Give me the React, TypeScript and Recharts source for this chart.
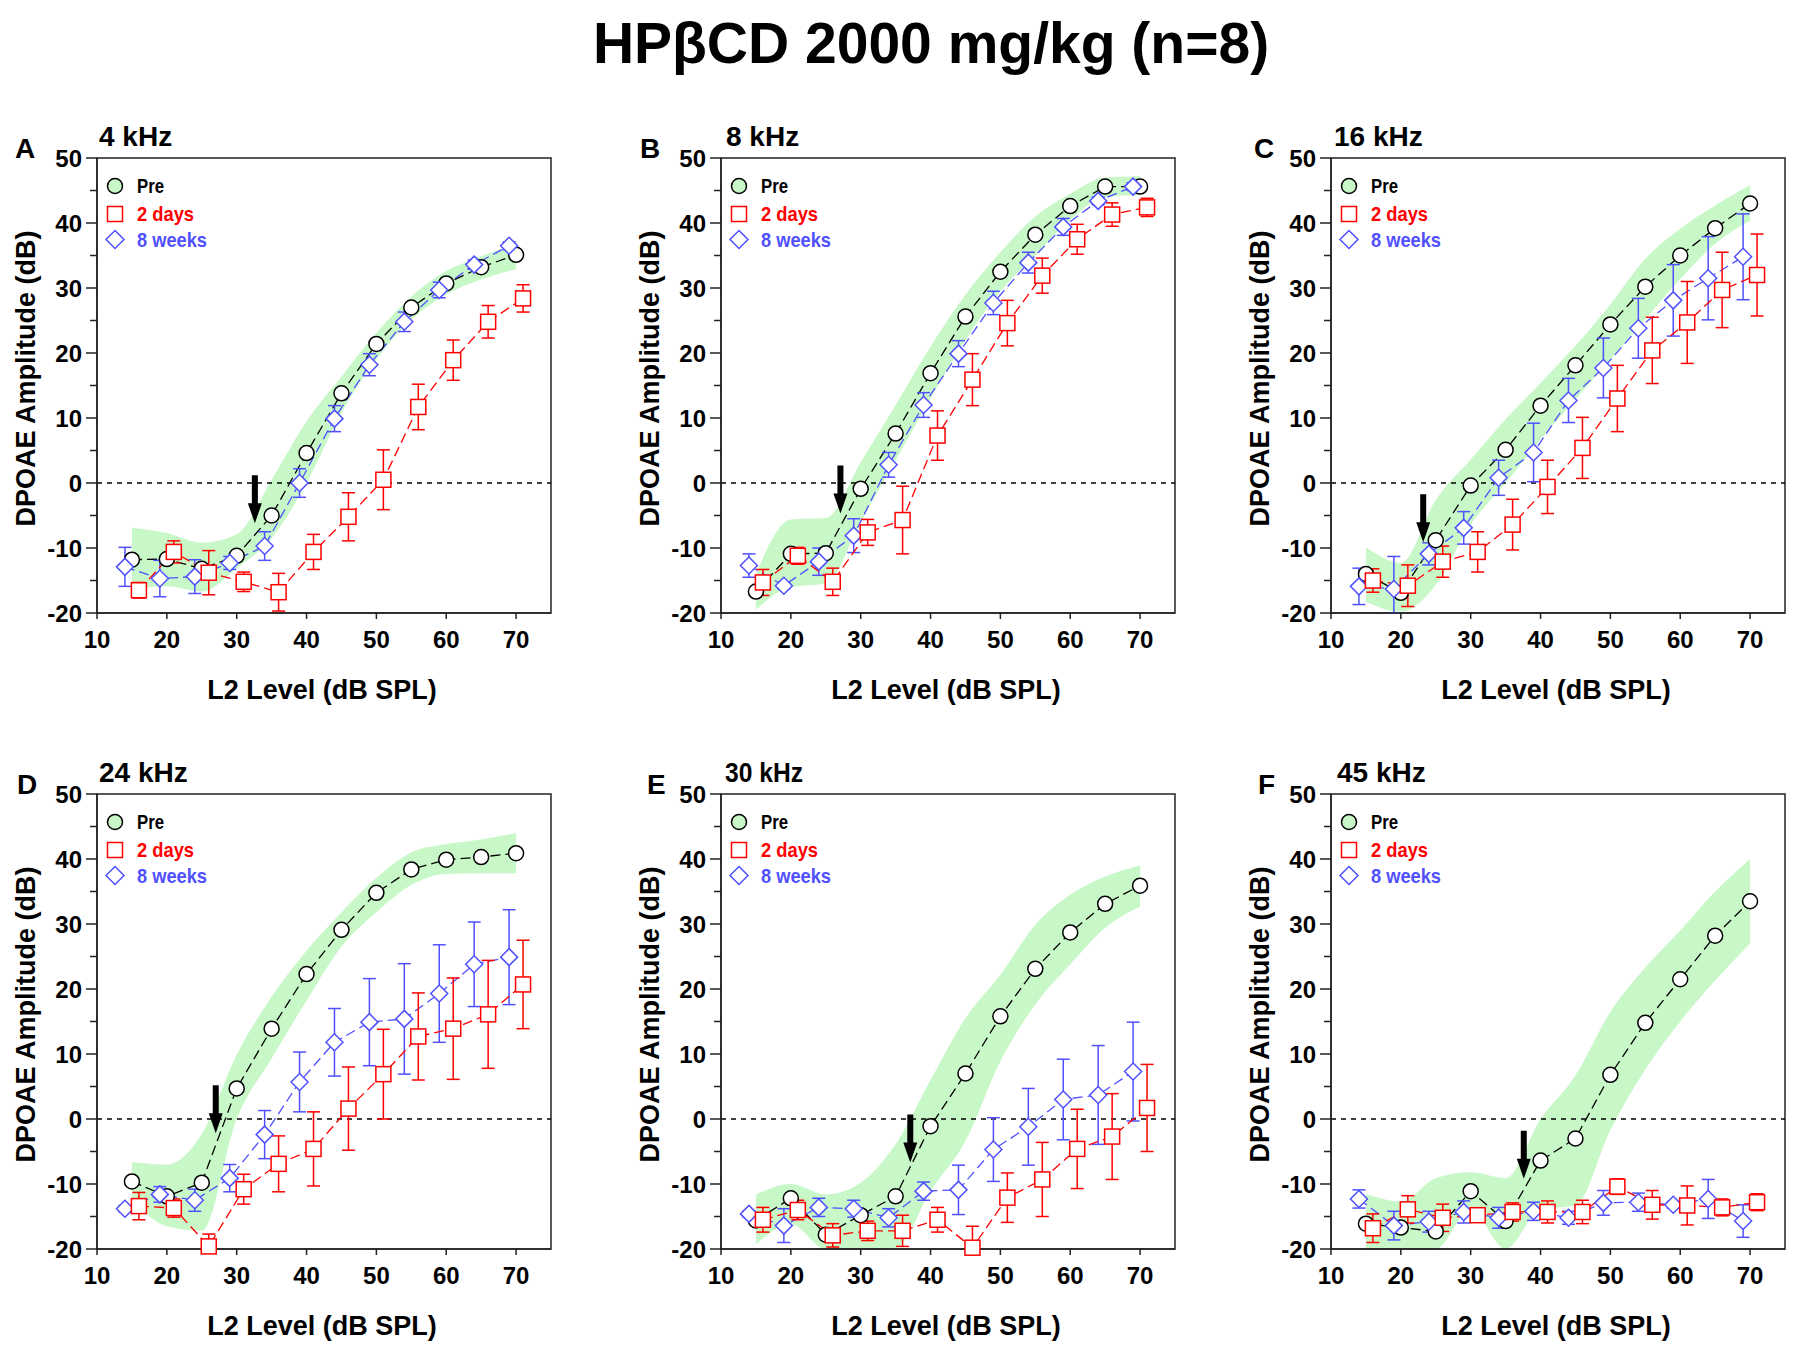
import React from 'react'
import {
  ComposedChart,
  Area,
  Line,
  XAxis,
  YAxis,
  ErrorBar,
  ReferenceLine,
  ReferenceDot,
  ReferenceArea,
} from 'recharts'

const FONT = '"Liberation Sans", Arial, Helvetica, sans-serif'
const INK = '#000000'
const AXIS = '#222222'
const RED = '#ff0000'
const BLUE = '#5050ff'
const GREEN = '#c8f8c8'

// L2 levels (dB SPL) for each group, offset by 1 dB as in the figure
const levelsPre = [15, 20, 25, 30, 35, 40, 45, 50, 55, 60, 65, 70]
const levels2d = [16, 21, 26, 31, 36, 41, 46, 51, 56, 61, 66, 71]
const levels8w = [14, 19, 24, 29, 34, 39, 44, 49, 54, 59, 64, 69]
const xTicks = [10, 20, 30, 40, 50, 60, 70]
const yTicks = [-20, -15, -10, -5, 0, 5, 10, 15, 20, 25, 30, 35, 40, 45, 50]

// A: 4 kHz
const preA = [-11.8, -11.7, -13.2, -11.2, -5.0, 4.6, 13.8, 21.4, 27.0, 30.7, 33.2, 35.1]
const preHiA = [-6.9, -7.7, -9.2, -7.9, 0.5, 9.5, 16.4, 23.1, 28.7, 32.6, 34.9, 36.8]
const preLoA = [-16.4, -15.9, -16.7, -13.1, -8.5, 0.0, 10.8, 19.0, 25.1, 29.0, 31.3, 32.9]
const d2A = [-16.5, -10.6, -13.8, -15.2, -16.8, -10.6, -5.2, 0.5, 11.7, 18.9, 24.8, 28.4]
const d2ErrA = [1.2, 1.7, 3.4, 1.5, 2.9, 2.7, 3.7, 4.6, 3.5, 3.1, 2.5, 2.1]
const w8A = [-12.9, -14.7, -14.4, -12.3, -9.7, 0.0, 9.9, 18.2, 24.8, 29.7, 33.6, 36.5]
const w8ErrA = [3.0, 2.8, 2.6, 1.0, 2.2, 2.2, 2.0, 1.7, 1.5, 1.2, 0.7, 0.6]

// B: 8 kHz
const preB = [-16.7, -10.9, -10.8, -0.9, 7.6, 16.9, 25.6, 32.5, 38.2, 42.6, 45.6, 45.6]
const preHiB = [-14.0, -5.6, -5.4, 3.2, 12.0, 21.0, 29.0, 35.5, 41.0, 44.5, 47.0, 47.2]
const preLoB = [-19.5, -16.0, -15.5, -6.0, 3.5, 13.0, 22.0, 29.5, 35.0, 40.5, 44.0, 44.3]
const d2B = [-15.3, -11.2, -15.2, -7.6, -5.7, 7.3, 15.9, 24.6, 31.9, 37.5, 41.3, 42.4]
const d2ErrB = [2.0, 1.3, 2.1, 2.0, 5.2, 3.8, 4.0, 3.5, 2.7, 2.3, 1.8, 1.4]
const w8B = [-12.7, -15.8, -12.1, -8.1, 2.8, 12.0, 19.9, 27.7, 33.9, 39.4, 43.4, 45.6]
const w8ErrB = [1.8, 0.5, 2.1, 2.6, 1.9, 1.9, 2.0, 1.8, 1.6, 1.3, 0.6, 0.6]

// C: 16 kHz
const preC = [-14.0, -16.9, -8.8, -0.4, 5.1, 11.9, 18.1, 24.4, 30.2, 35.0, 39.2, 43.0]
const preHiC = [-9.9, -12.3, -2.6, 3.6, 9.8, 15.4, 21.1, 27.5, 34.5, 39.1, 42.7, 45.8]
const preLoC = [-18.3, -19.8, -15.7, -6.4, 0.0, 6.7, 12.9, 19.0, 25.2, 31.4, 36.8, 40.4]
const d2C = [-15.0, -15.8, -12.1, -10.6, -6.4, -0.6, 5.4, 13.0, 20.4, 24.7, 29.7, 32.0]
const d2ErrC = [1.8, 3.2, 2.4, 3.1, 3.9, 4.1, 4.7, 5.1, 5.1, 6.3, 5.8, 6.3]
const w8C = [-15.9, -16.3, -10.9, -6.9, 0.8, 4.7, 12.7, 17.7, 23.8, 28.1, 31.5, 34.8]
const w8ErrC = [2.8, [3.7, 5.0], 1.7, 2.5, 2.7, 4.5, 3.4, 4.6, 4.6, 5.5, 6.4, 6.6]

// D: 24 kHz
const preD = [-9.6, -11.9, -9.8, 4.7, 13.9, 22.3, 29.1, 34.8, 38.4, 39.9, 40.3, 40.9]
const preHiD = [-6.6, -7.0, -2.3, 9.9, 18.8, 25.9, 31.8, 37.1, 41.0, 42.3, 43.0, 44.0]
const preLoD = [-12.5, -16.5, -17.2, 0.0, 9.3, 18.2, 26.5, 31.8, 36.0, 37.7, 37.8, 37.8]
const d2D = [-13.4, -13.7, -19.6, -10.8, -6.9, -4.6, 1.6, 6.9, 12.7, 13.9, 16.1, 20.7]
const d2ErrD = [2.1, 1.4, [0.4, 1.9], 2.3, 4.3, 5.7, 6.4, 6.9, 6.7, 7.8, 8.3, 6.8]
const w8D = [-13.8, -11.6, -12.5, -9.1, -2.4, 5.7, 11.8, 14.9, 15.4, 19.3, 23.8, 24.9]
const w8ErrD = [0.5, 1.2, 1.7, 2.1, 3.7, 4.6, 5.2, 6.7, 8.5, 7.5, 6.5, 7.3]

// E: 30 kHz
const preE = [-15.6, -12.2, -17.8, -14.8, -11.9, -1.1, 7.0, 15.8, 23.1, 28.7, 33.1, 35.9]
const preHiE = [-11.6, -10.0, -11.6, -9.8, -3.9, 6.0, 15.5, 22.2, 29.9, 34.5, 37.3, 39.0]
const preLoE = [-19.3, -16.2, -20.0, -20.0, -19.8, -11.1, -3.4, 8.9, 17.6, 23.8, 29.4, 32.7]
const d2E = [-15.5, -14.0, -17.9, -17.2, -17.2, -15.5, -19.8, -12.1, -9.3, -4.6, -2.7, 1.7]
const d2ErrE = [1.9, 1.5, 1.8, 1.5, 2.4, 1.9, [0.2, 3.3], 3.8, 5.7, 6.1, 6.6, 6.7]
const w8E = [-14.6, -16.4, -13.6, -13.8, -15.2, -11.1, -10.9, -4.7, -1.2, 3.0, 3.7, 7.3]
const w8ErrE = [0.5, 2.6, 1.4, 1.3, 1.4, 1.4, 3.8, 4.9, 5.9, 6.2, 7.6, 7.6]

// F: 45 kHz
const preF = [-16.1, -16.7, -17.3, -11.1, -15.7, -6.4, -3.0, 6.8, 14.8, 21.5, 28.2, 33.5]
const preHiF = [-11.5, -12.7, -9.1, -8.2, -9.1, 0.0, 6.7, 16.5, 23.3, 29.0, 35.0, 40.0]
const preLoF = [-20.0, -20.0, -20.0, -13.9, -20.0, -13.9, -13.3, -1.7, 7.6, 15.0, 21.3, 27.0]
const d2F = [-16.8, -13.9, -15.2, -14.8, -14.3, -14.3, -14.3, -10.4, -13.2, -13.3, -13.6, -12.8]
const d2ErrF = [2.2, 2.1, 2.1, 0.5, 1.4, 1.7, 1.8, 1.2, 2.2, 3.0, 1.3, 1.3]
const w8F = [-12.3, -16.4, -15.8, -14.3, -15.2, -14.2, -15.2, -12.9, -12.8, -13.2, -12.3, -15.7]
const w8ErrF = [1.4, 2.2, 1.6, 1.7, 1.6, 1.4, 1.0, 1.9, 1.4, 0.5, 3.0, 2.5]

const panels = [
  { letter: 'A', freq: '4 kHz', left: 97, top: 158, letterX: 15, freqX: 99, pre: preA, hi: preHiA, lo: preLoA, d2: d2A, d2Err: d2ErrA, w8: w8A, w8Err: w8ErrA, arrowX: 32.6, arrowTip: -6.2 },
  { letter: 'B', freq: '8 kHz', left: 721, top: 158, letterX: 640, freqX: 726, pre: preB, hi: preHiB, lo: preLoB, d2: d2B, d2Err: d2ErrB, w8: w8B, w8Err: w8ErrB, arrowX: 27.1, arrowTip: -4.7 },
  { letter: 'C', freq: '16 kHz', left: 1331, top: 158, letterX: 1254, freqX: 1334, pre: preC, hi: preHiC, lo: preLoC, d2: d2C, d2Err: d2ErrC, w8: w8C, w8Err: w8ErrC, arrowX: 23.2, arrowTip: -9.1 },
  { letter: 'D', freq: '24 kHz', left: 97, top: 794, letterX: 17, freqX: 99, pre: preD, hi: preHiD, lo: preLoD, d2: d2D, d2Err: d2ErrD, w8: w8D, w8Err: w8ErrD, arrowX: 27.0, arrowTip: -2.2 },
  { letter: 'E', freq: '30 kHz', left: 721, top: 794, letterX: 647, freqX: 725, freqWidth: 78, pre: preE, hi: preHiE, lo: preLoE, d2: d2E, d2Err: d2ErrE, w8: w8E, w8Err: w8ErrE, arrowX: 37.1, arrowTip: -6.7 },
  { letter: 'F', freq: '45 kHz', left: 1331, top: 794, letterX: 1258, freqX: 1337, pre: preF, hi: preHiF, lo: preLoF, d2: d2F, d2Err: d2ErrF, w8: w8F, w8Err: w8ErrF, arrowX: 37.6, arrowTip: -9.2 },
]

const Y_AXIS_W = 97
const X_AXIS_H = 106
const PLOT_W = 454
const PLOT_H = 455
const TOP_PAD = 16

const YTick = (props: any) => {
  const { y, payload } = props
  const v = payload.value
  const major = v % 10 === 0
  return (
    <g>
      <line x1={Y_AXIS_W} x2={Y_AXIS_W - (major ? 11 : 7)} y1={y} y2={y} stroke={AXIS} strokeWidth={1.5} />
      {major && (
        <text x={Y_AXIS_W - 15} y={y} dy={8.5} textAnchor="end" fontFamily={FONT} fontWeight="bold" fontSize={24} fill={INK}>
          {v}
        </text>
      )}
    </g>
  )
}

const circleDot = (p: any) => {
  if (p.cx == null || p.cy == null) return <g key={`c-${p.index}`} />
  return <circle key={`c-${p.index}`} cx={p.cx} cy={p.cy} r={7.5} fill="#fff" stroke={INK} strokeWidth={1.5} />
}

const squareDot = (p: any) => {
  if (p.cx == null || p.cy == null) return <g key={`s-${p.index}`} />
  return <rect key={`s-${p.index}`} x={p.cx - 7.5} y={p.cy - 7.5} width={15} height={15} fill="#fff" stroke={RED} strokeWidth={1.5} />
}

const diamondDot = (p: any) => {
  if (p.cx == null || p.cy == null) return <g key={`d-${p.index}`} />
  const { cx, cy } = p
  return (
    <path key={`d-${p.index}`} d={`M${cx} ${cy - 8.5}L${cx + 8.5} ${cy}L${cx} ${cy + 8.5}L${cx - 8.5} ${cy}Z`} fill="#fff" stroke={BLUE} strokeWidth={1.5} />
  )
}

const arrowShape = (p: any) => {
  const { cx, cy } = p
  const d = `M${cx - 3} ${cy - 48}L${cx + 3} ${cy - 48}L${cx + 3} ${cy - 20}L${cx + 7} ${cy - 20}L${cx} ${cy}L${cx - 7} ${cy - 20}L${cx - 3} ${cy - 20}Z`
  return <path d={d} fill={INK} stroke="none" />
}

function Panel({ p }: { p: any }) {
  const band = levelsPre.map((x, i) => ({ x, range: [p.lo[i], p.hi[i]] }))
  const pre = levelsPre.map((x, i) => ({ x, y: p.pre[i] }))
  const d2 = levels2d.map((x, i) => ({ x, y: p.d2[i], err: p.d2Err[i] }))
  const w8 = levels8w.map((x, i) => ({ x, y: p.w8[i], err: p.w8Err[i] }))

  return (
    <div style={{ position: 'absolute', left: p.left - Y_AXIS_W, top: p.top - TOP_PAD }}>
      <ComposedChart
        width={Y_AXIS_W + PLOT_W + 5}
        height={TOP_PAD + PLOT_H + X_AXIS_H}
        margin={{ top: TOP_PAD, right: 5, left: 0, bottom: 0 }}
      >
        <XAxis
          dataKey="x"
          type="number"
          domain={[10, 75]}
          ticks={xTicks}
          interval={0}
          height={X_AXIS_H}
          tickSize={6}
          tickMargin={12}
          axisLine={{ stroke: AXIS, strokeWidth: 1.5 }}
          tickLine={{ stroke: AXIS, strokeWidth: 1.5 }}
          tick={{ fontFamily: FONT, fontWeight: 'bold', fontSize: 24, fill: INK }}
        />
        <YAxis
          type="number"
          domain={[-20, 50]}
          ticks={yTicks}
          interval={0}
          width={Y_AXIS_W}
          tickSize={0}
          tickMargin={0}
          tickLine={false}
          axisLine={{ stroke: AXIS, strokeWidth: 1.5 }}
          tick={(t: any) => <YTick {...t} />}
        />
        <Area
          data={band}
          dataKey="range"
          type="monotone"
          stroke="none"
          fill={GREEN}
          fillOpacity={1}
          isAnimationActive={false}
          activeDot={false}
          dot={false}
        />
        <ReferenceLine y={0} stroke={INK} strokeWidth={1.3} strokeDasharray="5 5" />
        <Line
          data={pre}
          dataKey="y"
          type="linear"
          stroke={INK}
          strokeWidth={1.3}
          strokeDasharray="10 5"
          dot={circleDot}
          activeDot={false}
          isAnimationActive={false}
        />
        <Line
          data={w8}
          dataKey="y"
          type="linear"
          stroke={BLUE}
          strokeWidth={1.3}
          strokeDasharray="10 5"
          dot={diamondDot}
          activeDot={false}
          isAnimationActive={false}
        >
          <ErrorBar dataKey="err" direction="y" width={6.5} stroke={BLUE} strokeWidth={1.5} isAnimationActive={false} />
        </Line>
        <Line
          data={d2}
          dataKey="y"
          type="linear"
          stroke={RED}
          strokeWidth={1.3}
          strokeDasharray="10 5"
          dot={squareDot}
          activeDot={false}
          isAnimationActive={false}
        >
          <ErrorBar dataKey="err" direction="y" width={6.5} stroke={RED} strokeWidth={1.5} isAnimationActive={false} />
        </Line>
        <ReferenceDot x={p.arrowX} y={p.arrowTip} shape={arrowShape} />
        <ReferenceArea x1={10} x2={75} y1={-20} y2={50} fill="none" fillOpacity={0} stroke={AXIS} strokeWidth={1.5} />
      </ComposedChart>
    </div>
  )
}

function PanelText({ p }: { p: any }) {
  const L = p.left
  const T = p.top
  const textStyle = { fontFamily: FONT, fontWeight: 'bold' as const }
  return (
    <g>
      <text x={p.letterX} y={T} fontSize={28} {...textStyle} fill={INK}>{p.letter}</text>
      <text
        x={p.freqX}
        y={T - 12}
        fontSize={28}
        {...textStyle}
        fill={INK}
        {...(p.freqWidth ? { textLength: p.freqWidth, lengthAdjust: 'spacingAndGlyphs' } : {})}
      >
        {p.freq}
      </text>
      <text
        transform={`translate(${L - 62}, ${T + PLOT_H / 2 - 7}) rotate(-90)`}
        textAnchor="middle"
        fontSize={27}
        {...textStyle}
        fill={INK}
      >
        DPOAE Amplitude (dB)
      </text>
      <text x={L + PLOT_W / 2 - 2} y={T + PLOT_H + 86} textAnchor="middle" fontSize={27} {...textStyle} fill={INK}>
        L2 Level (dB SPL)
      </text>
      {/* legend */}
      <circle cx={L + 18} cy={T + 28} r={7.5} fill={GREEN} stroke={INK} strokeWidth={1.5} />
      <text x={L + 40} y={T + 35} fontSize={21} {...textStyle} fill={INK} textLength={27} lengthAdjust="spacingAndGlyphs">Pre</text>
      <rect x={L + 10.5} y={T + 48.5} width={15} height={15} fill="#fff" stroke={RED} strokeWidth={1.5} />
      <text x={L + 40} y={T + 63} fontSize={21} {...textStyle} fill={RED} textLength={57} lengthAdjust="spacingAndGlyphs">2 days</text>
      <path
        d={`M${L + 18} ${T + 72.5}L${L + 27} ${T + 81.5}L${L + 18} ${T + 90.5}L${L + 9} ${T + 81.5}Z`}
        fill="#fff"
        stroke={BLUE}
        strokeWidth={1.5}
      />
      <text x={L + 40} y={T + 88.5} fontSize={21} {...textStyle} fill={BLUE} textLength={70} lengthAdjust="spacingAndGlyphs">8 weeks</text>
    </g>
  )
}

export default function App() {
  return (
    <div style={{ position: 'absolute', left: 0, top: 0, width: 1800, height: 1355, background: '#fff', overflow: 'hidden' }}>
      {panels.map((p) => (
        <Panel key={p.letter} p={p} />
      ))}
      <svg width={1800} height={1355} style={{ position: 'absolute', left: 0, top: 0, pointerEvents: 'none' }}>
        <text x={931} y={63} textAnchor="middle" fontFamily={FONT} fontWeight="bold" fontSize={57} fill={INK}>
          HPβCD 2000 mg/kg (n=8)
        </text>
        {panels.map((p) => (
          <PanelText key={p.letter} p={p} />
        ))}
      </svg>
    </div>
  )
}
